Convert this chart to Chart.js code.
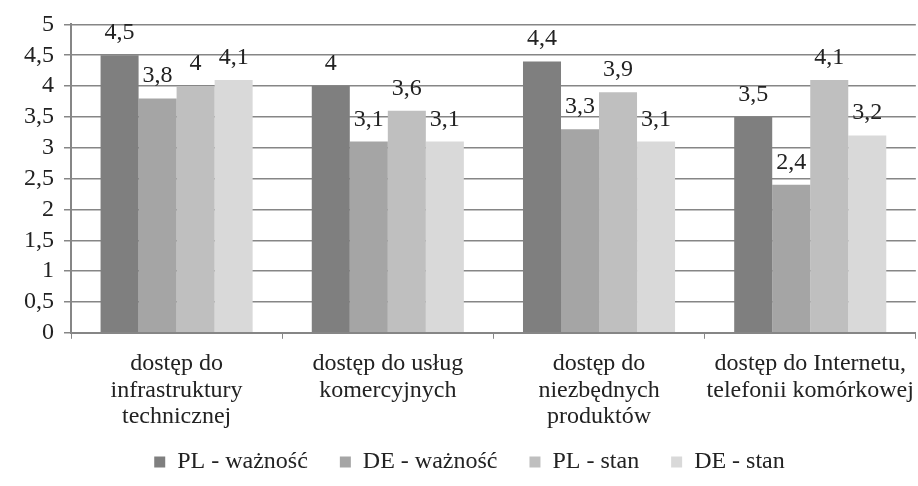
<!DOCTYPE html>
<html>
<head>
<meta charset="utf-8">
<script src="https://cdn.jsdelivr.net/npm/chart.js@4/dist/chart.umd.min.js"></script>
<style>
  html, body { margin: 0; padding: 0; background: #fff; overflow: hidden; }
  #wrap { width: 926px; height: 486px; }
</style>
</head>
<body>
<div id="wrap"><canvas id="myChart" width="926" height="486"></canvas></div>
<script>
const categories = [
  ['dostęp do', 'infrastruktury', 'technicznej'],
  ['dostęp do usług', 'komercyjnych'],
  ['dostęp do', 'niezbędnych', 'produktów'],
  ['dostęp do Internetu,', 'telefonii komórkowej']
];
const seriesNames = ['PL - ważność', 'DE - ważność', 'PL - stan', 'DE - stan'];
const plWaznosc = [4.5, 4, 4.4, 3.5];
const deWaznosc = [3.8, 3.1, 3.3, 2.4];
const plStan = [4, 3.6, 3.9, 4.1];
const deStan = [4.1, 3.1, 3.1, 3.2];
const colors = ['#7f7f7f', '#a5a5a5', '#bfbfbf', '#d9d9d9'];

const fmt = v => String(v).replace('.', ',');
const font = "'Liberation Serif', 'Times New Roman', serif";
const fs = 24;

// labels above the bars
const valueLabels = {
  id: 'valueLabels',
  afterDatasetsDraw(chart) {
    const ctx = chart.ctx;
    ctx.save();
    ctx.font = fs + 'px ' + font;
    ctx.fillStyle = '#222';
    ctx.textAlign = 'center';
    ctx.textBaseline = 'alphabetic';
    chart.data.datasets.forEach((ds, i) => {
      chart.getDatasetMeta(i).data.forEach((bar, j) => {
        ctx.fillText(fmt(ds.data[j]), bar.x, bar.y - 16);
      });
    });
    ctx.restore();
  }
};

const ctx = document.getElementById('myChart');
new Chart(ctx, {
  type: 'bar',
  data: {
    labels: categories,
    datasets: [plWaznosc, deWaznosc, plStan, deStan].map((d, i) => ({
      label: seriesNames[i],
      data: d,
      backgroundColor: colors[i],
      borderWidth: 0,
      categoryPercentage: 0.72,
      barPercentage: 1
    }))
  },
  options: {
    responsive: false,
    animation: false,
    layout: { padding: { top: 10, right: 1, left: 14, bottom: 2 } },
    plugins: {
      tooltip: { enabled: false },
      legend: {
        position: 'bottom',
        labels: {
          font: { family: font, size: fs },
          color: '#222',
          boxWidth: 11,
          boxHeight: 11,
          padding: 8,
          generateLabels(chart) {
            const items = Chart.defaults.plugins.legend.labels.generateLabels(chart);
            items.forEach((it, i) => { if (i < items.length - 1) it.text += '    '; });
            return items;
          }
        }
      }
    },
    scales: {
      x: {
        offset: true,
        grid: {
          offset: true,
          drawOnChartArea: false,
          drawTicks: true,
          tickLength: 6,
          color: '#868686'
        },
        border: { color: '#868686', width: 2 },
        ticks: {
          font: { family: font, size: fs, lineHeight: 1.1 },
          color: '#222',
          maxRotation: 0,
          padding: 12
        }
      },
      y: {
        min: 0,
        max: 5,
        ticks: {
          stepSize: 0.5,
          autoSkip: false,
          font: { family: font, size: fs },
          color: '#222',
          padding: 10,
          callback: v => fmt(v)
        },
        grid: { color: '#868686', lineWidth: 1.5, tickLength: 7 },
        border: { color: '#868686', width: 2 }
      }
    }
  },
  plugins: [valueLabels]
});
</script>
</body>
</html>
